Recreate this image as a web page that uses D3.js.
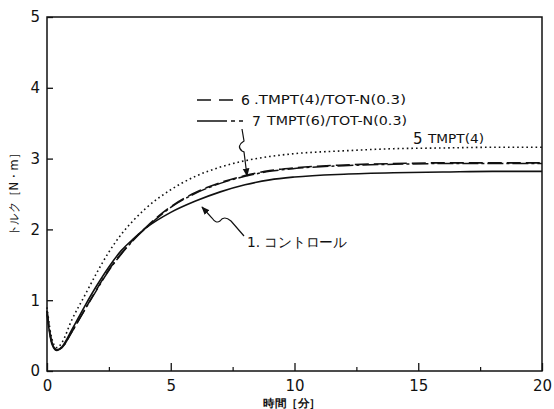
<!DOCTYPE html>
<html><head><meta charset="utf-8">
<script src="https://cdn.jsdelivr.net/npm/d3@7"></script>
<style>body{margin:0;background:#fff}text{font-family:"DejaVu Sans","Liberation Sans",sans-serif;fill:#111}</style>
</head><body><svg id="c" width="554" height="409"></svg>
<script>
const times   = [0,0.2,0.4,0.6,1.0,1.5,2,2.5,3,3.5,4,5,6,7,8,9,10,12,14,16,18,20];
const tmpt4   = [0.9,0.45,0.33,0.4,0.72,1.05,1.38,1.68,1.93,2.13,2.3,2.56,2.75,2.88,2.97,3.03,3.07,3.11,3.14,3.15,3.16,3.16];
const mix6    = [0.85,0.4,0.3,0.33,0.55,0.85,1.15,1.43,1.66,1.86,2.03,2.32,2.52,2.66,2.76,2.83,2.87,2.91,2.93,2.94,2.94,2.94];
const mix7    = [0.85,0.4,0.3,0.33,0.55,0.85,1.14,1.42,1.65,1.85,2.02,2.31,2.51,2.65,2.75,2.82,2.86,2.9,2.92,2.93,2.93,2.93];
const control = [0.8,0.38,0.29,0.34,0.58,0.9,1.2,1.47,1.7,1.87,2.02,2.24,2.4,2.53,2.63,2.7,2.74,2.78,2.8,2.81,2.82,2.82];
const xTicks = [0,5,10,15,20];
const yTicks = [0,1,2,3,4,5];

const svg = d3.select("#c");
const x = d3.scaleLinear().domain([0,20]).range([47,542]);
const y = d3.scaleLinear().domain([0,5]).range([371,17]);

// frame
svg.append("rect").attr("x",47).attr("y",17).attr("width",495).attr("height",354)
  .attr("fill","none").attr("stroke","#111").attr("stroke-width",1.5);

// x axis
const xa = svg.append("g").attr("transform","translate(0,371)")
  .call(d3.axisBottom(x).tickValues(xTicks).tickSize(-8).tickPadding(8).tickFormat(d3.format("d")));
xa.select(".domain").remove();
xa.selectAll("text").attr("font-size",15).attr("dy","0.9em").attr("y",6);
xa.selectAll("line").attr("stroke","#111").attr("stroke-width",1.3);
const xm = svg.append("g").attr("transform","translate(0,371)")
  .call(d3.axisBottom(x).tickValues([2.5,7.5,12.5,17.5]).tickSize(-4).tickFormat(""));
xm.select(".domain").remove();
xm.selectAll("line").attr("stroke","#111").attr("stroke-width",1.2);

// y axis
const ya = svg.append("g").attr("transform","translate(47,0)")
  .call(d3.axisLeft(y).tickValues(yTicks).tickSize(-6).tickPadding(8).tickFormat(d3.format("d")));
ya.select(".domain").remove();
ya.selectAll("text").attr("font-size",15).attr("x",-7);
ya.selectAll("line").attr("stroke","#111").attr("stroke-width",1.3);

// axis titles
svg.append("text").attr("x",292).attr("y",407).attr("text-anchor","middle")
  .attr("font-size",11).attr("font-weight","bold").attr("font-family","Noto Sans CJK JP")
  .attr("textLength",58).attr("lengthAdjust","spacingAndGlyphs").text("時間［分］");
svg.append("text").attr("transform","translate(18,192) rotate(-90)").attr("text-anchor","middle")
  .attr("font-size",12).attr("font-family","Noto Sans CJK JP")
  .attr("textLength",88).attr("lengthAdjust","spacingAndGlyphs").text("トルク［N・m］");

// curves
const line = d3.line().x((d,i)=>x(times[i])).y(d=>y(d)).curve(d3.curveMonotoneX);
const series = [
  {v:tmpt4, dash:"1.6,3", w:1.6},
  {v:control, dash:null, w:1.6},
  {v:mix7, dash:"16,3,3,3", w:1.5},
  {v:mix6, dash:"14,5", w:1.6}
];
series.forEach(s=>{
  const p = svg.append("path").datum(s.v).attr("d",line).attr("fill","none")
    .attr("stroke","#111").attr("stroke-width",s.w);
  if(s.dash) p.attr("stroke-dasharray",s.dash);
});

// legend lines and texts
svg.append("line").attr("x1",197).attr("x2",238).attr("y1",100).attr("y2",100)
  .attr("stroke","#111").attr("stroke-width",1.5).attr("stroke-dasharray","14,8");
svg.append("text").attr("x",241).attr("y",105).attr("font-size",14).text("6");
svg.append("text").attr("x",254).attr("y",104).attr("font-size",11.5)
  .attr("textLength",152).attr("lengthAdjust","spacingAndGlyphs").text(".TMPT(4)/TOT-N(0.3)");

svg.append("line").attr("x1",197).attr("x2",250).attr("y1",121).attr("y2",121)
  .attr("stroke","#111").attr("stroke-width",1.5).attr("stroke-dasharray","30,4,4,4,4");
svg.append("text").attr("x",252).attr("y",126).attr("font-size",14).text("7");
svg.append("text").attr("x",267).attr("y",125).attr("font-size",11.5)
  .attr("textLength",140).attr("lengthAdjust","spacingAndGlyphs").text("TMPT(6)/TOT-N(0.3)");

svg.append("text").attr("x",413).attr("y",144).attr("font-size",15).text("5");
svg.append("text").attr("x",428).attr("y",143).attr("font-size",11.5)
  .attr("textLength",56).attr("lengthAdjust","spacingAndGlyphs").text("TMPT(4)");

svg.append("text").attr("x",247).attr("y",247).attr("font-size",14).attr("font-family","Noto Sans CJK JP")
  .attr("textLength",100).attr("lengthAdjust","spacingAndGlyphs").text("1. コントロール");

// pointers
svg.append("defs").append("marker").attr("id","ah").attr("viewBox","0 0 10 10").attr("refX",9).attr("refY",5)
  .attr("markerWidth",7).attr("markerHeight",7).attr("orient","auto")
  .append("path").attr("d","M0,1 L10,5 L0,9 Z").attr("fill","#111");
svg.append("path").attr("d","M242,129 L244,141 Q236,146 242,151 L244,152 L247,176")
  .attr("fill","none").attr("stroke","#111").attr("stroke-width",1.2).attr("marker-end","url(#ah)");
svg.append("path").attr("d","M244,236 L231,221 Q224,215 220,221 Q216,224 212,218 L202,207")
  .attr("fill","none").attr("stroke","#111").attr("stroke-width",1.2).attr("marker-end","url(#ah)");
</script></body></html>
